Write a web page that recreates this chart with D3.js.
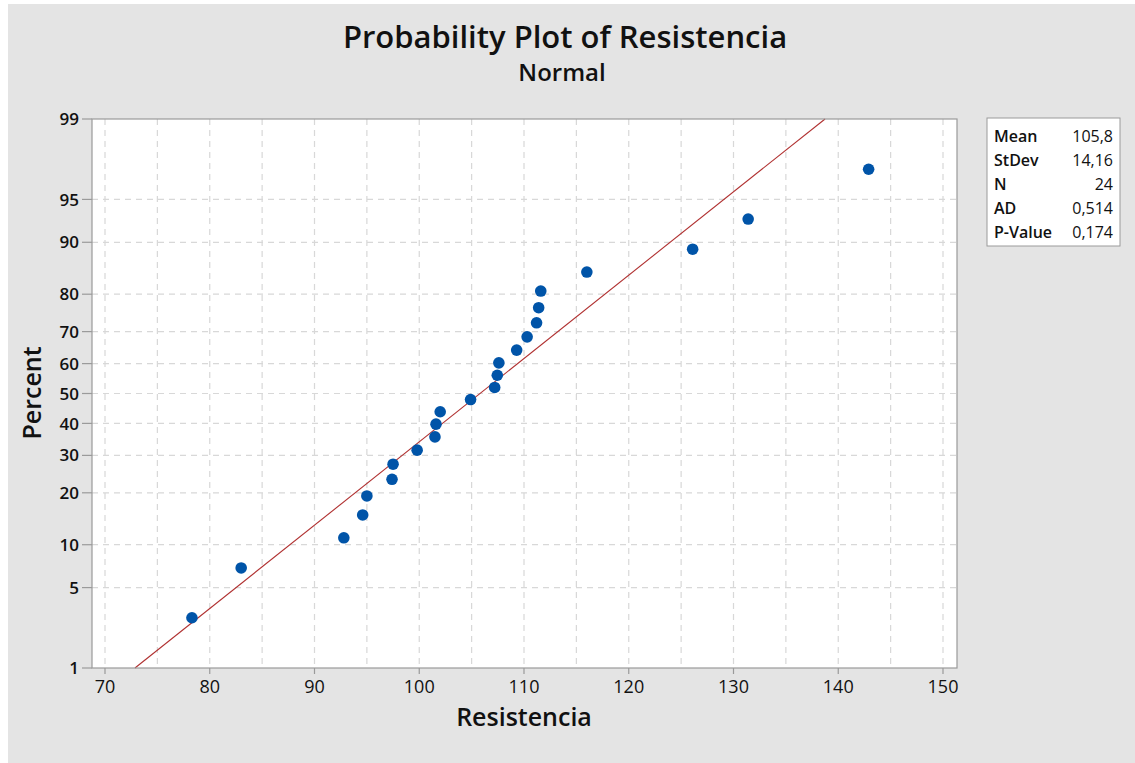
<!DOCTYPE html>
<html><head><meta charset="utf-8">
<script src="https://cdn.jsdelivr.net/npm/d3@7"></script>
<style>
html,body{margin:0;padding:0;background:#fff;}
svg{display:block;}
text{font-family:"Open Sans","Noto Sans",sans-serif;fill:#111;}
</style></head>
<body>
<script>
// Data
const resistencia = [78.3, 83.0, 92.8, 94.6, 95.0, 97.4, 97.5, 99.8, 101.5, 101.6, 102.0, 104.9,
                     107.2, 107.45, 107.6, 109.3, 110.3, 111.2, 111.4, 111.6, 116.0, 126.1, 131.4, 142.9];
const fitMean = 105.8;
const fitStDev = 14.16;
const yTickValues = [1, 5, 10, 20, 30, 40, 50, 60, 70, 80, 90, 95, 99];
const yGridValues = [5, 10, 20, 30, 40, 50, 60, 70, 80, 90, 95];
const xTickValues = [70, 80, 90, 100, 110, 120, 130, 140, 150];
const xGridValues = [70, 75, 80, 85, 90, 95, 100, 105, 110, 115, 120, 125, 130, 135, 140, 145, 150];
const statLabels = ["Mean", "StDev", "N", "AD", "P-Value"];
const statValues = ["105,8", "14,16", "24", "0,514", "0,174"];

// inverse normal CDF (Acklam)
function probit(p){
  const a=[-3.969683028665376e+01,2.209460984245205e+02,-2.759285104469687e+02,1.383577518672690e+02,-3.066479806614716e+01,2.506628277459239e+00];
  const b=[-5.447609879822406e+01,1.615858368580409e+02,-1.556989798598866e+02,6.680131188771972e+01,-1.328068155288572e+01];
  const c=[-7.784894002430293e-03,-3.223964580411365e-01,-2.400758277161838e+00,-2.549671010135398e+00,4.374664141464968e+00,2.938163982698783e+00];
  const d=[7.784695709041462e-03,3.224671290700398e-01,2.445134137142996e+00,3.754408661907416e+00];
  const pl=0.02425, ph=1-pl; let q,r;
  if(p<pl){q=Math.sqrt(-2*Math.log(p));return (((((c[0]*q+c[1])*q+c[2])*q+c[3])*q+c[4])*q+c[5])/((((d[0]*q+d[1])*q+d[2])*q+d[3])*q+1);}
  if(p<=ph){q=p-0.5;r=q*q;return (((((a[0]*r+a[1])*r+a[2])*r+a[3])*r+a[4])*r+a[5])*q/(((((b[0]*r+b[1])*r+b[2])*r+b[3])*r+b[4])*r+1);}
  q=Math.sqrt(-2*Math.log(1-p));return -(((((c[0]*q+c[1])*q+c[2])*q+c[3])*q+c[4])*q+c[5])/((((d[0]*q+d[1])*q+d[2])*q+d[3])*q+1);
}

const W=1135,H=763;
const svg=d3.select("body").append("svg").attr("width",W).attr("height",H);
svg.append("rect").attr("x",8).attr("y",4).attr("width",W-8).attr("height",H-4).attr("fill","#e4e4e4");

const plot={left:92,right:957,top:119,bottom:668};
const x0 = 105, x1 = 943;
const pxPerUnit=(x1-x0)/80;
const x=d3.scaleLinear().domain([70 - (x0-plot.left)/pxPerUnit, 150 + (plot.right-x1)/pxPerUnit]).range([plot.left,plot.right]);
const zMax=probit(0.99);
const yz=d3.scaleLinear().domain([-zMax,zMax]).range([plot.bottom,plot.top]);
const y=p=>yz(probit(p/100));

svg.append("rect").attr("x",plot.left).attr("y",plot.top).attr("width",plot.right-plot.left).attr("height",plot.bottom-plot.top).attr("fill","#fff");

const g=svg.append("g");
g.selectAll(".vg").data(xGridValues).enter().append("line")
  .attr("x1",d=>x(d)).attr("x2",d=>x(d)).attr("y1",plot.top).attr("y2",plot.bottom)
  .attr("stroke","#d8d8d8").attr("stroke-width",1.2).attr("stroke-dasharray","6,5");
g.selectAll(".hg").data(yGridValues).enter().append("line")
  .attr("x1",plot.left).attr("x2",plot.right).attr("y1",d=>y(d)).attr("y2",d=>y(d))
  .attr("stroke","#d8d8d8").attr("stroke-width",1.2).attr("stroke-dasharray","6,5");

// fit line
const fitPts=[0.01,0.99].map(p=>[fitMean+probit(p)*fitStDev, p*100]);
g.append("line").attr("x1",x(fitPts[0][0])).attr("y1",y(fitPts[0][1]))
  .attr("x2",x(fitPts[1][0])).attr("y2",y(fitPts[1][1]))
  .attr("stroke","#b03030").attr("stroke-width",1.1);

// points
const n=resistencia.length;
const sorted=resistencia.slice().sort((a,b)=>a-b);
g.selectAll("circle").data(sorted).enter().append("circle")
  .attr("cx",d=>x(d)).attr("cy",(d,i)=>y(100*(i+1-0.3)/(n+0.4)))
  .attr("r",5.8).attr("fill","#0054a8");

// border
svg.append("rect").attr("x",plot.left).attr("y",plot.top).attr("width",plot.right-plot.left).attr("height",plot.bottom-plot.top)
  .attr("fill","none").attr("stroke","#9a9a9a").attr("stroke-width",1.2);

// axes
const yAxis=svg.append("g");
yAxis.selectAll("line").data(yTickValues).enter().append("line")
  .attr("x1",plot.left-10).attr("x2",plot.left).attr("y1",d=>y(d)).attr("y2",d=>y(d)).attr("stroke","#9a9a9a").attr("stroke-width",1.2);
yAxis.selectAll("text").data(yTickValues).enter().append("text")
  .attr("x",plot.left-13).attr("y",d=>y(d)).attr("dy","0.36em").attr("text-anchor","end")
  .attr("font-size",17).attr("font-weight",600).attr("fill","#1a1a1a").text(d=>d);
const xAxis=svg.append("g");
xAxis.selectAll("line").data(xTickValues).enter().append("line")
  .attr("x1",d=>x(d)).attr("x2",d=>x(d)).attr("y1",plot.bottom).attr("y2",plot.bottom+6).attr("stroke","#9a9a9a").attr("stroke-width",1.2);
xAxis.selectAll("text").data(xTickValues).enter().append("text")
  .attr("x",d=>x(d)).attr("y",plot.bottom+19).attr("dy","0.36em").attr("text-anchor","middle")
  .attr("font-size",18).attr("font-weight",500).attr("fill","#1a1a1a").text(d=>d);

// titles
svg.append("text").attr("x",565).attr("y",48).attr("text-anchor","middle").attr("font-size",31).attr("font-weight",600).text("Probability Plot of Resistencia");
svg.append("text").attr("x",562).attr("y",81).attr("text-anchor","middle").attr("font-size",24).attr("font-weight",600).text("Normal");
svg.append("text").attr("x",524).attr("y",726).attr("text-anchor","middle").attr("font-size",25).attr("font-weight",600).text("Resistencia");
svg.append("text").attr("transform","translate(41,393) rotate(-90)").attr("text-anchor","middle").attr("font-size",25).attr("font-weight",600).text("Percent");

// stats box
const box=svg.append("g");
box.append("rect").attr("x",987).attr("y",118).attr("width",133).attr("height",128).attr("fill","#fff").attr("stroke","#9a9a9a").attr("stroke-width",1);
box.selectAll(".sl").data(statLabels).enter().append("text")
  .attr("x",994).attr("y",(d,i)=>136+i*24).attr("dy","0.36em").attr("font-size",16).attr("font-weight",600).text(d=>d);
box.selectAll(".sv").data(statValues).enter().append("text")
  .attr("x",1113).attr("y",(d,i)=>136+i*24).attr("dy","0.36em").attr("text-anchor","end").attr("font-size",16).attr("font-weight",500).text(d=>d);
</script>
</body></html>
